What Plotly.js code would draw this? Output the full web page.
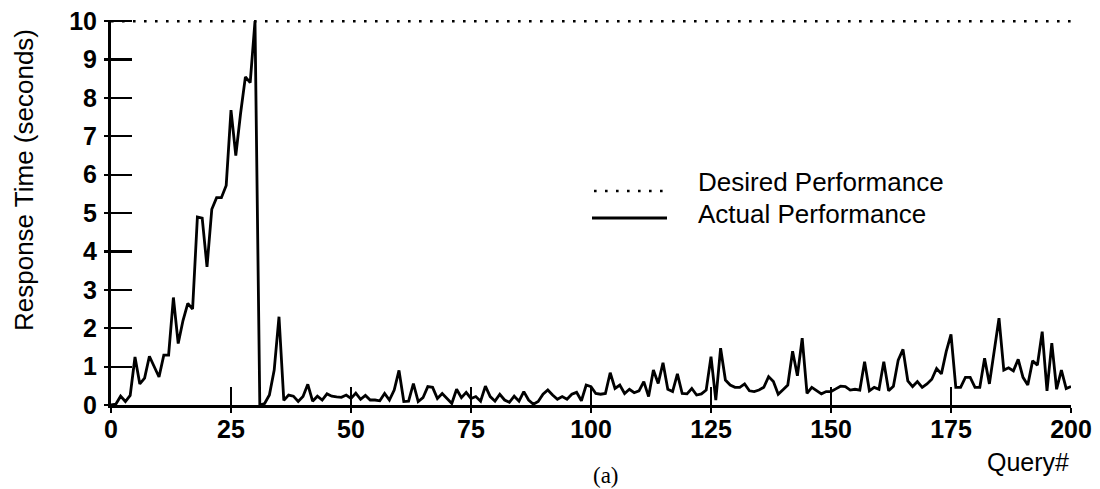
<!DOCTYPE html>
<html>
<head>
<meta charset="utf-8">
<script src="https://cdn.plot.ly/plotly-3.0.1.min.js"></script>
<style>
  html, body { margin: 0; padding: 0; background: #fff; }
  #chart { width: 1100px; height: 489px; }
</style>
</head>
<body>
<div id="chart"></div>
<script>
// ---- data ----
const actualResponse = [
  0, 0.02, 0.23, 0.09, 0.25, 1.25, 0.55, 0.7, 1.27, 1.0,
  0.73, 1.3, 1.3, 2.8, 1.6, 2.2, 2.65, 2.5, 4.9, 4.87,
  3.6, 5.1, 5.4, 5.4, 5.72, 7.68, 6.5, 7.6, 8.55, 8.4,
  10, 0, 0.04, 0.26, 0.91, 2.3, 0.12, 0.26, 0.23, 0.09,
  0.22, 0.54, 0.1, 0.23, 0.13, 0.29, 0.23, 0.21, 0.2, 0.26,
  0.17, 0.31, 0.15, 0.25, 0.13, 0.13, 0.11, 0.3, 0.13, 0.39,
  0.9, 0.09, 0.1, 0.56, 0.09, 0.19, 0.48, 0.46, 0.17, 0.3,
  0.17, 0.04, 0.41, 0.19, 0.33, 0.17, 0.22, 0.1, 0.49, 0.22,
  0.1, 0.28, 0.13, 0.07, 0.23, 0.1, 0.35, 0.13, 0.02, 0.09,
  0.28, 0.39, 0.26, 0.15, 0.22, 0.15, 0.28, 0.33, 0.11, 0.52,
  0.48, 0.3, 0.28, 0.3, 0.84, 0.43, 0.52, 0.3, 0.41, 0.32,
  0.37, 0.61, 0.22, 0.91, 0.56, 1.1, 0.41, 0.35, 0.81, 0.3,
  0.29, 0.43, 0.26, 0.29, 0.39, 1.26, 0.13, 1.48, 0.65, 0.52,
  0.46, 0.46, 0.55, 0.37, 0.35, 0.39, 0.46, 0.74, 0.61, 0.28,
  0.4, 0.52, 1.4, 0.76, 1.74, 0.3, 0.46, 0.37, 0.29, 0.35,
  0.35, 0.42, 0.49, 0.48, 0.39, 0.41, 0.39, 1.13, 0.37, 0.46,
  0.41, 1.13, 0.37, 0.49, 1.17, 1.45, 0.63, 0.48, 0.61, 0.46,
  0.55, 0.67, 0.95, 0.81, 1.39, 1.84, 0.46, 0.46, 0.72, 0.72,
  0.46, 0.46, 1.22, 0.55, 1.45, 2.26, 0.91, 0.97, 0.89, 1.19,
  0.72, 0.52, 1.15, 1.04, 1.91, 0.37, 1.61, 0.41, 0.91, 0.43,
  0.48
];
const queryNumbers = actualResponse.map((_, i) => i);
const desiredX = [0, 200];
const desiredY = [10, 10];
const xTickVals = [0, 25, 50, 75, 100, 125, 150, 175, 200];
const xTickText = ['0', '25', '50', '75', '100', '125', '150', '175', '200'];
const yTickVals = [0, 1, 2, 3, 4, 5, 6, 7, 8, 9, 10];
const yTickText = ['0', '1', '2', '3', '4', '5', '6', '7', '8', '9', '10'];
const seriesNames = ['Desired Performance', 'Actual Performance'];

// ---- chart ----
const SANS = 'Liberation Sans, Arial, sans-serif';
const SERIF = 'Liberation Serif, Times New Roman, serif';

const traces = [
  {
    x: desiredX, y: desiredY, mode: 'lines', name: seriesNames[0],
    line: { color: '#000', width: 2.6, dash: '2.6px,8.4px' },
    cliponaxis: false, showlegend: false, hoverinfo: 'skip'
  },
  {
    x: queryNumbers, y: actualResponse, mode: 'lines', name: seriesNames[1],
    line: { color: '#000', width: 2.8 },
    cliponaxis: false, showlegend: false
  },
  { // empty trace to activate the overlay axes used for the inner ticks
    x: [], y: [], xaxis: 'x2', yaxis: 'y2', mode: 'lines',
    showlegend: false, hoverinfo: 'skip'
  }
];

const tickFont = { family: SANS, size: 25, color: '#000', weight: 'bold' };
const PW = 960, PH = 385, L = 111, B = 405;
const px = X => (X - L) / PW;
const py = Y => (B - Y) / PH;

const layout = {
  width: 1100, height: 489,
  margin: { l: 111, r: 29, t: 20, b: 84 },
  paper_bgcolor: '#fff', plot_bgcolor: '#fff',
  showlegend: false,
  xaxis: {
    range: [0, 200], tickmode: 'array', tickvals: xTickVals, ticktext: xTickText,
    ticks: 'outside', ticklen: 5, tickwidth: 2.2, tickcolor: '#000',
    showline: true, linewidth: 3, linecolor: '#000',
    showgrid: false, zeroline: false, tickfont: tickFont, ticklabelstandoff: -5
  },
  yaxis: {
    range: [0, 10.03], tickmode: 'array', tickvals: yTickVals, ticktext: yTickText,
    ticks: 'outside', ticklen: 4, tickwidth: 2.2, tickcolor: '#000',
    showline: true, linewidth: 3, linecolor: '#000',
    showgrid: false, zeroline: false, tickfont: tickFont, ticklabelstandoff: 2
  },
  xaxis2: {
    overlaying: 'x', anchor: 'y2', side: 'bottom', range: [0, 200],
    tickmode: 'array', tickvals: xTickVals, ticks: 'inside', ticklen: 18, tickwidth: 2.2, tickcolor: '#000',
    showticklabels: false, showline: false, showgrid: false, zeroline: false
  },
  yaxis2: {
    overlaying: 'y', anchor: 'x2', side: 'left', range: [0, 10.03],
    tickmode: 'array', tickvals: yTickVals, ticks: 'inside', ticklen: 21, tickwidth: 2.2, tickcolor: '#000',
    showticklabels: false, showline: false, showgrid: false, zeroline: false
  },
  shapes: [
    { type: 'line', xref: 'paper', yref: 'paper', x0: px(594), x1: px(667), y0: py(191), y1: py(191),
      line: { color: '#000', width: 2.6, dash: '2.6px,8.4px' } },
    { type: 'line', xref: 'paper', yref: 'paper', x0: px(592), x1: px(667), y0: py(218), y1: py(218),
      line: { color: '#000', width: 2.8 } }
  ],
  annotations: [
    { text: 'Response Time (seconds)', xref: 'paper', yref: 'paper', x: px(24), y: py(180),
      xanchor: 'center', yanchor: 'middle', textangle: -90, showarrow: false,
      font: { family: SANS, size: 26, color: '#000' } },
    { text: seriesNames[0], xref: 'paper', yref: 'paper', x: px(696), y: py(182),
      xanchor: 'left', yanchor: 'middle', showarrow: false, font: { family: SANS, size: 26, color: '#000' } },
    { text: seriesNames[1], xref: 'paper', yref: 'paper', x: px(696), y: py(214),
      xanchor: 'left', yanchor: 'middle', showarrow: false, font: { family: SANS, size: 26, color: '#000' } },
    { text: 'Query#', xref: 'paper', yref: 'paper', x: px(1071), y: py(462),
      xanchor: 'right', yanchor: 'middle', showarrow: false, font: { family: SANS, size: 25, color: '#000' } },
    { text: '(a)', xref: 'paper', yref: 'paper', x: px(606), y: py(475),
      xanchor: 'center', yanchor: 'middle', showarrow: false, font: { family: SERIF, size: 23, color: '#000' } }
  ]
};

Plotly.newPlot('chart', traces, layout, { staticPlot: true, displayModeBar: false });
</script>
</body>
</html>
